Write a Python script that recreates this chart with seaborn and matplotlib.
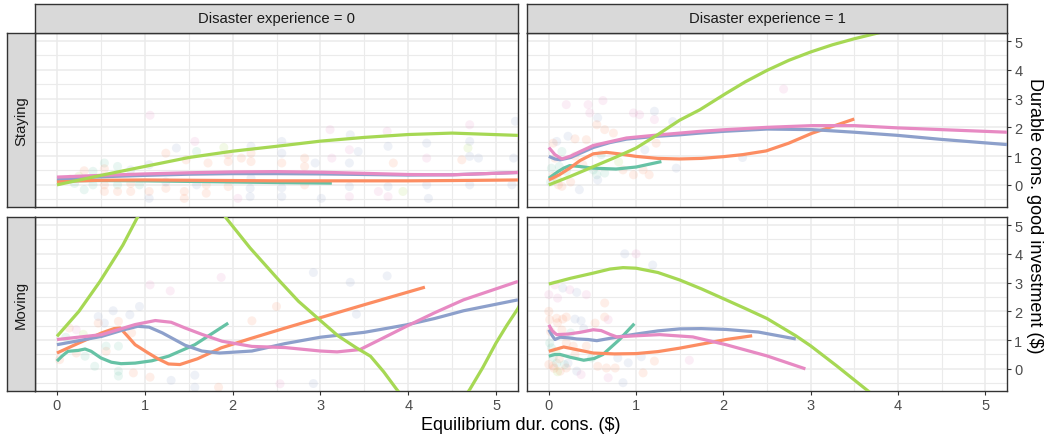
import numpy as np
import pandas as pd
import matplotlib
matplotlib.use("Agg")
import matplotlib.pyplot as plt
import seaborn as sns

# ---------------- data ----------------
series_names = ["A", "B", "C", "D", "E"]
series_colors = ["#66c2a5", "#fc8d62", "#8da0cb", "#e78ac3", "#a6d854"]

col_labels = ["Disaster experience = 0", "Disaster experience = 1"]
row_labels = ["Staying", "Moving"]
x_ticks = [0, 1, 2, 3, 4, 5]
y_ticks = [0, 1, 2, 3, 4, 5]

# smooth lines: Staying, disaster = 0
stay0_A_x = [0, 0.5, 1, 1.5, 2, 2.5, 3.13]
stay0_A_y = [0.14, 0.15, 0.14, 0.12, 0.10, 0.08, 0.06]
stay0_B_x = [0, 0.5, 1, 1.5, 2, 2.5, 3, 3.5, 4, 4.5, 5.25]
stay0_B_y = [0.12, 0.16, 0.17, 0.16, 0.15, 0.14, 0.14, 0.14, 0.14, 0.15, 0.17]
stay0_C_x = [0, 0.5, 1, 1.5, 2, 2.5, 3, 3.5, 4, 4.5, 5.25]
stay0_C_y = [0.21, 0.28, 0.33, 0.37, 0.39, 0.39, 0.38, 0.36, 0.34, 0.35, 0.43]
stay0_D_x = [0, 0.5, 1, 1.5, 2, 2.5, 3, 3.5, 4, 4.5, 5.25]
stay0_D_y = [0.27, 0.33, 0.38, 0.42, 0.45, 0.46, 0.44, 0.40, 0.36, 0.35, 0.43]
stay0_E_x = [0, 0.5, 1, 1.5, 2, 2.5, 3, 3.5, 4, 4.5, 5.25]
stay0_E_y = [0.0, 0.33, 0.64, 0.95, 1.17, 1.34, 1.52, 1.65, 1.75, 1.80, 1.72]

# smooth lines: Staying, disaster = 1
stay1_A_x = [0, 0.1, 0.17, 0.24, 0.35, 0.51, 0.77, 1.0, 1.29]
stay1_A_y = [0.23, 0.45, 0.58, 0.67, 0.64, 0.58, 0.55, 0.62, 0.81]
stay1_B_x = [0, 0.12, 0.24, 0.36, 0.51, 0.66, 0.8, 1.0, 1.25, 1.5, 1.75, 2.0, 2.22, 2.49, 2.75, 3.02, 3.25, 3.5]
stay1_B_y = [0.17, 0.35, 0.58, 0.85, 1.08, 1.13, 1.08, 0.99, 0.92, 0.90, 0.92, 0.98, 1.05, 1.18, 1.45, 1.80, 2.03, 2.29]
stay1_C_x = [0, 0.07, 0.13, 0.25, 0.36, 0.51, 0.7, 0.89, 1.2, 1.5, 1.73, 2.0, 2.5, 3.02, 3.5, 4.0, 4.5, 5.25]
stay1_C_y = [0.99, 0.90, 0.87, 0.95, 1.10, 1.30, 1.47, 1.59, 1.68, 1.74, 1.80, 1.86, 1.94, 1.92, 1.83, 1.72, 1.58, 1.40]
stay1_D_x = [0, 0.07, 0.15, 0.25, 0.36, 0.51, 0.7, 0.89, 1.27, 1.73, 2.03, 2.5, 3.02, 3.5, 4.0, 4.5, 5.25]
stay1_D_y = [1.30, 1.05, 0.90, 1.00, 1.16, 1.37, 1.50, 1.63, 1.74, 1.86, 1.92, 2.00, 2.06, 2.06, 1.98, 1.92, 1.83]
stay1_E_x = [0, 0.25, 0.5, 0.75, 1.0, 1.25, 1.5, 1.73, 2.03, 2.25, 2.5, 2.75, 3.0, 3.25, 3.5, 4.0, 4.5]
stay1_E_y = [0.0, 0.30, 0.62, 0.94, 1.28, 1.75, 2.25, 2.61, 3.18, 3.58, 3.98, 4.33, 4.62, 4.87, 5.08, 5.45, 5.70]

# smooth lines: Moving, disaster = 0
move0_A_x = [0, 0.06, 0.125, 0.24, 0.32, 0.39, 0.5, 0.62, 0.73, 0.89, 1.08, 1.27, 1.57, 1.95]
move0_A_y = [0.27, 0.45, 0.61, 0.64, 0.69, 0.61, 0.38, 0.23, 0.18, 0.20, 0.28, 0.44, 0.84, 1.59]
move0_B_x = [0, 0.25, 0.51, 0.65, 0.72, 0.8, 0.89, 1.04, 1.15, 1.27, 1.4, 1.6, 1.87, 2.2, 2.6, 3.0, 3.5, 4.19]
move0_B_y = [0.55, 0.90, 1.25, 1.40, 1.42, 1.15, 0.84, 0.55, 0.35, 0.17, 0.15, 0.35, 0.73, 1.05, 1.42, 1.78, 2.23, 2.84]
move0_C_x = [0, 0.25, 0.51, 0.75, 0.92, 1.05, 1.2, 1.46, 1.65, 1.85, 2.22, 2.6, 3.0, 3.5, 3.98, 4.3, 4.63, 5.25]
move0_C_y = [0.84, 0.98, 1.13, 1.35, 1.48, 1.45, 1.25, 0.82, 0.62, 0.55, 0.62, 0.88, 1.10, 1.27, 1.53, 1.75, 2.02, 2.40]
move0_D_x = [0, 0.51, 0.89, 1.12, 1.3, 1.46, 1.65, 1.88, 2.22, 2.6, 3.0, 3.19, 3.45, 3.7, 3.98, 4.3, 4.63, 5.25]
move0_D_y = [1.02, 1.19, 1.54, 1.68, 1.62, 1.42, 1.20, 0.96, 0.78, 0.74, 0.62, 0.59, 0.67, 1.05, 1.48, 1.95, 2.40, 3.04]
move0_E_x = [0, 0.25, 0.49, 0.75, 0.91, 1.1, 1.4, 1.7, 1.93, 2.2, 2.54, 2.75, 3.0, 3.2, 3.41, 3.57, 3.72, 3.87,
             4.1, 4.3, 4.5, 4.7, 4.85, 5.0, 5.12, 5.25, 5.4]
move0_E_y = [1.13, 2.0, 3.04, 4.3, 5.23, 6.2, 6.9, 6.3, 5.23, 4.2, 3.04, 2.35, 1.68, 1.15, 0.73, 0.44, -0.10, -0.72,
             -1.6, -1.9, -1.6, -0.72, 0.05, 0.9, 1.5, 2.1, 3.0]

# smooth lines: Moving, disaster = 1
move1_A_x = [0, 0.07, 0.13, 0.25, 0.4, 0.52, 0.62, 0.81, 0.98]
move1_A_y = [0.44, 0.50, 0.50, 0.40, 0.30, 0.36, 0.50, 1.02, 1.57]
move1_B_x = [0, 0.08, 0.17, 0.3, 0.51, 0.75, 1.0, 1.25, 1.5, 1.75, 2.03, 2.33]
move1_B_y = [0.61, 0.68, 0.76, 0.68, 0.55, 0.52, 0.53, 0.60, 0.72, 0.86, 1.02, 1.15]
move1_C_x = [0, 0.04, 0.07, 0.13, 0.22, 0.32, 0.45, 0.55, 0.68, 0.85, 1.0, 1.25, 1.5, 1.75, 2.03, 2.4, 2.83]
move1_C_y = [1.36, 1.15, 1.02, 1.10, 1.08, 1.04, 1.02, 0.98, 1.05, 1.14, 1.21, 1.32, 1.39, 1.40, 1.37, 1.28, 1.04]
move1_D_x = [0, 0.04, 0.09, 0.22, 0.36, 0.51, 0.6, 0.7, 0.78, 1.0, 1.27, 1.65, 2.03, 2.5, 2.94]
move1_D_y = [1.53, 1.32, 1.19, 1.21, 1.27, 1.36, 1.33, 1.20, 1.11, 1.15, 1.19, 1.11, 0.84, 0.45, 0.0]
move1_E_x = [0, 0.25, 0.51, 0.7, 0.85, 1.0, 1.25, 1.5, 1.75, 2.03, 2.25, 2.5, 2.83, 3.0, 3.3, 3.65, 4.0]
move1_E_y = [2.95, 3.15, 3.33, 3.47, 3.52, 3.50, 3.35, 3.09, 2.78, 2.40, 2.10, 1.75, 1.15, 0.80, 0.10, -0.75, -1.60]

# faint scatter points (x, y, series index)
stay0_pts_x = [0.31, 0.41, 0.41, 0.31, 0.54, 0.54, 0.54, 0.54, 0.69, 0.69, 0.69, 0.84, 0.84, 0.84, 0.94, 1.05, 1.05, 1.05,
               1.24, 1.24, 1.24, 1.36, 1.57, 1.59, 1.47, 1.45, 1.45, 1.59, 1.72, 1.70, 1.70, 1.95, 1.95, 1.95, 2.10, 2.06,
               2.21, 2.21, 2.21, 2.21, 2.20, 2.20, 2.56, 2.56, 2.56, 2.56, 2.56, 2.82, 2.82, 2.82, 2.94, 3.01, 3.11, 3.13,
               3.33, 3.34, 3.43, 3.33, 3.33, 3.33, 3.66, 3.76, 3.77, 3.83, 3.77, 3.77, 3.94, 4.21, 4.21, 4.21, 4.23, 4.61,
               4.70, 4.70, 4.68, 4.70, 4.80, 4.70, 5.20, 5.22, 5.18, 1.06, 0.15, 0.20, 0.25, 1.90]
stay0_pts_y = [0.49, 0.47, 0.00, -0.17, 0.76, 0.56, 0.00, -0.23, 0.64, 0.00, -0.23, 0.52, 0.05, -0.23, 0.00, 0.70, -0.23, -0.47,
               1.10, -0.12, 0.10, 1.28, 1.51, 1.16, 0.87, -0.23, -0.47, 0.00, 0.76, 0.00, -0.29, 1.05, 0.81, -0.06, 0.93, -0.47,
               1.10, 0.81, 1.34, 0.23, -0.12, -0.41, 1.51, 1.10, 0.76, -0.10, -0.41, 0.93, 0.64, 0.00, 0.76, -0.47, 1.92, 0.93,
               1.22, 1.74, 1.16, 0.76, -0.06, -0.41, -0.23, 1.86, 1.34, 0.76, -0.06, -0.41, -0.23, 1.45, 0.93, 0.00, -0.47, 0.87,
               2.09, 1.51, 1.28, 0.99, 0.93, 0.00, 0.93, 2.21, 0.00, 2.42, 0.20, 0.05, 0.30, 1.30]
stay0_pts_s = [1, 0, 0, 0, 0, 1, 1, 1, 0, 0, 1, 2, 1, 1, 0, 2, 1, 2,
               1, 1, 2, 2, 3, 0, 1, 1, 1, 2, 1, 1, 1, 1, 1, 1, 1, 3,
               1, 1, 2, 2, 2, 2, 2, 2, 1, 2, 2, 1, 1, 1, 2, 2, 3, 3,
               3, 2, 2, 2, 2, 3, 3, 3, 2, 1, 2, 3, 4, 2, 3, 2, 2, 1,
               3, 2, 4, 2, 2, 2, 2, 2, 2, 3, 1, 0, 4, 4]

stay1_pts_x = [0.20, 0.45, 0.47, 0.62, 0.56, 0.55, 0.64, 0.97, 1.04, 1.21, 1.42, 1.21, 1.10, 1.23, 0.74, 0.22, 0.09, 0.30,
               0.43, 0.05, 0.15, 0.07, 0.03, 0.12, 0.20, 0.39, 0.51, 0.55, 0.64, 0.85, 0.97, 1.08, 1.15, 0.56, 0.35, 0.11,
               0.05, 0.02, 0.10, 1.46, 2.69, 2.22, 0.30, 0.60, 0.80, 0.25, 0.15]
stay1_pts_y = [2.79, 2.79, 2.50, 2.93, 2.33, 2.09, 1.92, 2.50, 2.44, 2.27, 2.20, 2.56, 1.22, 1.45, 1.80, 1.69, 1.51, 1.60,
               1.57, 1.45, 1.16, 0.93, 0.58, 0.64, 0.47, 0.70, 0.52, 0.35, 0.41, 0.52, 0.35, 0.52, 0.35, 0.17, -0.17, 0.00,
               0.30, 0.10, 0.20, 0.58, 3.33, 0.95, 1.00, 1.05, 0.80, 0.10, -0.05]
stay1_pts_s = [3, 3, 3, 3, 2, 1, 1, 3, 3, 3, 2, 2, 2, 1, 1, 2, 2, 1,
               1, 1, 0, 1, 0, 0, 0, 1, 0, 0, 0, 1, 1, 1, 1, 2, 2, 1,
               1, 0, 4, 2, 3, 2, 1, 0, 4, 1, 1]

move0_pts_x = [0.14, 0.22, 0.47, 0.54, 0.64, 0.83, 0.94, 1.06, 1.29, 1.87, 0.47, 0.70, 0.85, 0.56, 0.22, 0.03, 0.32, 0.43,
               0.56, 0.70, 0.70, 0.70, 0.87, 1.06, 1.30, 1.57, 1.57, 1.84, 2.22, 2.50, 2.54, 2.92, 2.92, 3.34, 3.41, 3.76,
               0.10, 0.30]
move0_pts_y = [1.42, 1.36, 1.82, 1.59, 2.02, 1.88, 2.17, 2.92, 2.71, 3.18, 1.59, 1.65, 1.25, 0.61, 0.55, 0.32, 0.44, 0.09,
               0.79, 0.79, -0.08, -0.25, -0.14, -0.29, -0.40, -0.22, -0.64, -0.64, 1.67, 2.17, -0.52, 3.35, -0.51, 3.01, 1.90, 3.23,
               1.10, 1.20]
move0_pts_s = [1, 3, 2, 2, 2, 2, 2, 3, 3, 3, 1, 1, 1, 1, 1, 1, 0, 0,
               0, 0, 0, 0, 1, 1, 2, 2, 2, 1, 1, 1, 3, 2, 2, 2, 2, 2,
               0, 4]

move1_pts_x = [0.00, 0.01, 0.09, 0.16, 0.10, 0.20, 0.00, 0.07, 0.10, 0.16, 0.24, 0.32, 0.43, 0.30, 0.37, 0.53, 0.64, 0.64,
               0.68, 0.43, 0.28, 0.20, 0.01, 0.03, 0.00, 0.05, 0.09, 0.13, 0.20, 0.32, 0.37, 0.49, 0.56, 0.66, 0.76, 0.68,
               0.85, 0.79, 0.91, 1.06, 1.08, 1.21, 1.61, 0.87, 1.00, 1.19, 0.05, 0.12, 0.18, 0.08, 0.25, 0.02, 0.15, 0.40,
               0.30, 0.10, 0.22, 0.06]
move1_pts_y = [2.00, 1.71, 1.76, 1.73, 1.60, 1.80, 2.58, 2.92, 2.46, 2.81, 2.75, 2.66, 2.58, 1.73, 1.67, 1.59, 2.29, 1.80,
               1.71, 0.79, 0.79, 0.90, 0.90, 0.73, 0.15, 0.10, 0.20, -0.08, 0.03, -0.08, -0.20, 0.38, 0.09, 0.03, 0.03, -0.31,
               -0.48, 0.38, 0.21, 0.42, -0.14, 0.27, 0.30, 4.00, 4.00, 3.61, 0.40, 0.35, 0.15, 0.60, 1.25, 1.30, 1.35, 1.40,
               0.50, -0.10, 0.20, 0.02]
move1_pts_s = [1, 1, 1, 1, 1, 1, 3, 3, 3, 2, 3, 2, 3, 2, 2, 1, 1, 1,
               3, 1, 1, 1, 0, 0, 1, 1, 0, 1, 1, 2, 3, 0, 1, 1, 1, 3,
               2, 2, 2, 2, 1, 1, 3, 2, 3, 2, 0, 1, 0, 4, 0, 1, 1, 2,
               1, 4, 2, 1]

# ---------------- assemble tables ----------------
def line_table(prefix):
    g = globals()
    frames = []
    for s in series_names:
        frames.append(pd.DataFrame({"x": g[f"{prefix}_{s}_x"], "y": g[f"{prefix}_{s}_y"], "series": s}))
    return pd.concat(frames, ignore_index=True)

def pts_table(prefix):
    g = globals()
    return pd.DataFrame({"x": g[f"{prefix}_pts_x"], "y": g[f"{prefix}_pts_y"],
                         "series": [series_names[i] for i in g[f"{prefix}_pts_s"]]})

panels = {(0, 0): "stay0", (0, 1): "stay1", (1, 0): "move0", (1, 1): "move1"}
palette = dict(zip(series_names, series_colors))

# ---------------- figure ----------------
sns.set_theme(style="white")
plt.rcParams['font.family'] = ['Liberation Sans', 'DejaVu Sans']

W, H = 1046, 435
fig = plt.figure(figsize=(W / 100, H / 100), dpi=100)

def px_axes(x0, y0, x1, y1):
    return fig.add_axes([x0 / W, 1 - y1 / H, (x1 - x0) / W, (y1 - y0) / H])

cols = [(35, 518), (527, 1007)]
rows = [(34, 208), (218, 392)]
border = "#333333"

for (r, c), prefix in panels.items():
    x0, x1 = cols[c]
    y0, y1 = rows[r]
    ax = px_axes(x0, y0, x1, y1)
    ax.set_facecolor("white")
    pts = pts_table(prefix)
    sns.scatterplot(data=pts, x="x", y="y", hue="series", palette=palette, hue_order=series_names,
                    s=42, alpha=0.14, edgecolor="none", legend=False, ax=ax, zorder=2)
    lines = line_table(prefix)
    sns.lineplot(data=lines, x="x", y="y", hue="series", palette=palette, hue_order=series_names,
                 estimator=None, sort=True, lw=2.3, legend=False, ax=ax, zorder=3)
    for ln in ax.get_lines():
        ln.set_solid_joinstyle("round")
        ln.set_solid_capstyle("butt")
    ax.set_xlim(-0.25, 5.25)
    ax.set_ylim(-0.77, 5.28)
    ax.set_xticks(x_ticks)
    ax.set_yticks(y_ticks)
    ax.set_xticks(np.arange(0.5, 5.0, 1.0), minor=True)
    ax.set_yticks(np.arange(-0.5, 5.0, 1.0), minor=True)
    ax.grid(which="major", color="#ebebeb", lw=1.1)
    ax.grid(which="minor", color="#ebebeb", lw=0.8)
    ax.set_axisbelow(True)
    ax.set_xlabel("")
    ax.set_ylabel("")
    for sp in ax.spines.values():
        sp.set_color(border)
        sp.set_linewidth(1.0)
    ax.tick_params(which="minor", length=0)
    ax.tick_params(axis="both", which="major", length=3.2, width=0.8, color=border,
                   labelsize=10.5, labelcolor="#4d4d4d", pad=2)
    if r == 1:
        ax.tick_params(axis="x", bottom=True, labelbottom=True)
    else:
        ax.tick_params(axis="x", bottom=False, labelbottom=False)
    if c == 1:
        ax.yaxis.tick_right()
        ax.tick_params(axis="y", right=True, left=False, labelright=True, labelleft=False)
    else:
        ax.tick_params(axis="y", left=False, right=False, labelleft=False, labelright=False)

def strip(x0, y0, x1, y1, text, rot):
    sa = px_axes(x0, y0, x1, y1)
    sa.set_facecolor("#d9d9d9")
    sa.set_xticks([])
    sa.set_yticks([])
    sa.grid(False)
    for sp in sa.spines.values():
        sp.set_color(border)
        sp.set_linewidth(1.0)
    sa.text(0.5, 0.5, text, transform=sa.transAxes, ha="center", va="center",
            rotation=rot, fontsize=10.7, color="#1a1a1a")

for c, lab in enumerate(col_labels):
    strip(cols[c][0], 5, cols[c][1], 34, lab, 0)
for r, lab in enumerate(row_labels):
    strip(7, rows[r][0], 35, rows[r][1], lab, 90)

fig.text(521 / W, 1 - 426 / H, "Equilibrium dur. cons. ($)", ha="center", va="center",
         fontsize=13, color="black")
fig.text(1035 / W, 1 - 216 / H, "Durable cons. good investment ($)", ha="center", va="center",
         rotation=270, fontsize=13, color="black")

fig.savefig("out.png", dpi=100, facecolor="white")
